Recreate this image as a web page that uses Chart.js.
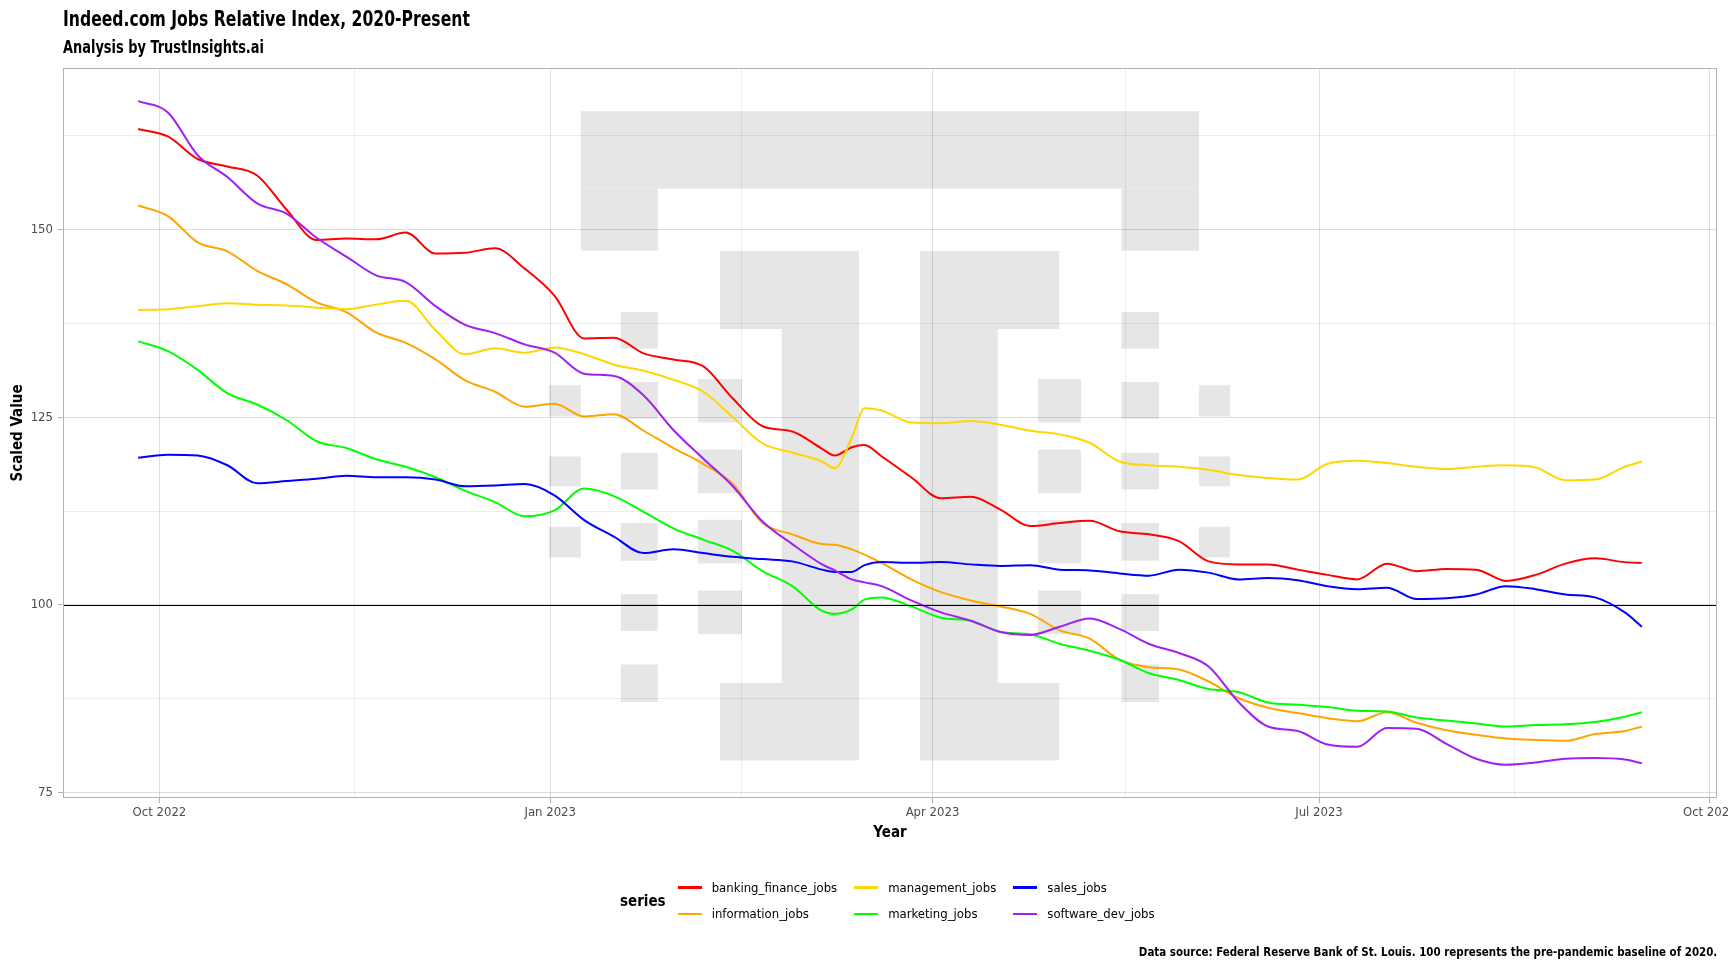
<!DOCTYPE html>
<html>
<head>
<meta charset="utf-8">
<title>Indeed.com Jobs Relative Index, 2020-Present</title>
<script src="https://cdn.jsdelivr.net/npm/chart.js@4.4.1/dist/chart.umd.min.js"></script>
<style>
  html, body { margin: 0; padding: 0; background: #fff; }
  #wrap {
    position: relative; width: 1728px; height: 972px; overflow: hidden;
    font-family: 'DejaVu Sans Condensed', 'Liberation Sans Narrow', 'Noto Sans', sans-serif;
    color: #000;
  }
  #chart { position: absolute; left: 0; top: 0; }
  /* the original face is a narrow one, so squeeze the condensed fallback a bit */
  .title { position: absolute; left: 63px; top: 5px; font-size: 22px; line-height: 27px; font-weight: bold; white-space: nowrap; transform: scaleX(0.79); transform-origin: left center; }
  .subtitle { position: absolute; left: 63px; top: 36px; font-size: 18px; line-height: 22px; font-weight: bold; white-space: nowrap; transform: scaleX(0.8); transform-origin: left center; }
  .caption { position: absolute; right: 11px; top: 943px; font-size: 13px; line-height: 18px; font-weight: bold; white-space: nowrap; transform: scaleX(0.88); transform-origin: right center; }
  #legend { position: absolute; left: 620px; top: 874px; display: flex; align-items: center; }
  #legend .ltitle { font-size: 15px; font-weight: bold; margin-right: 12px; }
  #legend-items { display: grid; grid-template-rows: repeat(2, 26.6px); grid-auto-flow: column; column-gap: 17px; }
  #legend .item { display: flex; align-items: center; font-size: 13px; white-space: nowrap; }
  #legend .key { display: inline-block; width: 24px; height: 2.5px; margin-right: 10px; }
</style>
</head>
<body>
<div id="wrap">
  <canvas id="chart" width="1728" height="972"></canvas>
  <div class="title">Indeed.com Jobs Relative Index, 2020-Present</div>
  <div class="subtitle">Analysis by TrustInsights.ai</div>
  <div id="legend"><span class="ltitle">series</span><div id="legend-items"></div></div>
  <div class="caption">Data source: Federal Reserve Bank of St. Louis. 100 represents the pre-pandemic baseline of 2020.</div>
</div>
<script>
// weekly readings (plus a few extra days around the March spike)
const DATES = [
  '2022-09-26', '2022-10-03', '2022-10-10', '2022-10-17', '2022-10-24', '2022-10-31',
  '2022-11-07', '2022-11-14', '2022-11-21', '2022-11-28', '2022-12-05', '2022-12-12',
  '2022-12-19', '2022-12-26', '2023-01-02', '2023-01-09', '2023-01-16', '2023-01-23',
  '2023-01-30', '2023-02-06', '2023-02-13', '2023-02-20', '2023-02-27', '2023-03-06',
  '2023-03-09', '2023-03-13', '2023-03-16', '2023-03-20', '2023-03-27', '2023-04-03',
  '2023-04-10', '2023-04-17', '2023-04-24', '2023-05-01', '2023-05-08', '2023-05-15',
  '2023-05-22', '2023-05-29', '2023-06-05', '2023-06-12', '2023-06-19', '2023-06-26',
  '2023-07-03', '2023-07-10', '2023-07-17', '2023-07-24', '2023-07-31', '2023-08-07',
  '2023-08-14', '2023-08-21', '2023-08-28', '2023-09-04', '2023-09-11', '2023-09-15'
];

const banking_finance_jobs = [
  163.4, 162.4, 159.4, 158.4, 157.2, 152.6, 148.6, 148.8, 148.7, 149.6, 146.8, 146.9,
  147.5, 144.8, 141.2, 135.5, 135.6, 133.5, 132.7, 131.8, 127.5, 123.8, 123.1, 120.8,
  119.9, 121.0, 121.3, 119.8, 117.0, 114.2, 114.4, 112.7, 110.5, 110.9, 111.2, 109.8,
  109.4, 108.5, 105.8, 105.4, 105.4, 104.7, 104.0, 103.4, 105.5, 104.5, 104.8, 104.7,
  103.2, 104.0, 105.5, 106.2, 105.7, 105.6
];
const information_jobs = [
  153.2, 151.8, 148.3, 147.1, 144.5, 142.7, 140.3, 139.0, 136.3, 134.9, 132.7, 129.9,
  128.4, 126.4, 126.8, 125.1, 125.4, 123.2, 120.9, 118.8, 116.1, 110.9, 109.4, 108.1,
  108.0, 107.4, 106.7, 105.6, 103.4, 101.7, 100.6, 99.8, 98.8, 96.6, 95.5, 92.7,
  91.7, 91.4, 89.8, 87.6, 86.3, 85.6, 84.9, 84.5, 85.7, 84.3, 83.3, 82.7,
  82.2, 82.0, 81.9, 82.8, 83.2, 83.8
];
const management_jobs = [
  139.3, 139.4, 139.8, 140.2, 140.0, 139.9, 139.6, 139.4, 140.0, 140.5, 136.6, 133.4,
  134.2, 133.6, 134.3, 133.4, 132.0, 131.2, 130.0, 128.4, 125.0, 121.5, 120.3, 119.1,
  118.2, 122.3, 126.2, 125.9, 124.3, 124.2, 124.5, 124.0, 123.2, 122.7, 121.6, 119.1,
  118.6, 118.4, 118.0, 117.3, 116.9, 116.7, 118.8, 119.2, 118.9, 118.4, 118.1, 118.4,
  118.6, 118.3, 116.6, 116.7, 118.4, 119.1
];
const marketing_jobs = [
  135.1, 133.8, 131.3, 128.2, 126.7, 124.6, 121.8, 120.9, 119.4, 118.4, 117.0, 115.2,
  113.7, 111.8, 112.6, 115.5, 114.5, 112.4, 110.2, 108.7, 107.2, 104.5, 102.5, 99.2,
  98.8, 99.4, 100.7, 101.0, 99.8, 98.3, 97.9, 96.4, 96.1, 94.8, 93.9, 92.7,
  90.9, 90.0, 88.8, 88.4, 87.0, 86.7, 86.4, 85.9, 85.8, 85.0, 84.6, 84.2,
  83.8, 84.0, 84.1, 84.4, 85.1, 85.7
];
const sales_jobs = [
  119.6, 120.0, 119.9, 118.6, 116.2, 116.5, 116.8, 117.2, 117.0, 117.0, 116.7, 115.8,
  115.9, 116.1, 114.6, 111.3, 109.1, 106.9, 107.4, 106.9, 106.4, 106.1, 105.8, 104.7,
  104.4, 104.4, 105.3, 105.7, 105.6, 105.7, 105.4, 105.2, 105.3, 104.7, 104.6, 104.2,
  103.9, 104.7, 104.3, 103.4, 103.6, 103.3, 102.5, 102.1, 102.3, 100.8, 100.9, 101.4,
  102.5, 102.1, 101.4, 101.0, 99.0, 97.1
];
const software_dev_jobs = [
  167.1, 165.6, 159.9, 157.0, 153.5, 152.1, 148.9, 146.4, 143.9, 143.0, 139.8, 137.3,
  136.2, 134.7, 133.6, 130.8, 130.5, 127.9, 123.3, 119.5, 115.8, 111.1, 108.1, 105.4,
  104.6, 103.4, 103.0, 102.5, 100.6, 99.0, 97.9, 96.4, 96.0, 97.1, 98.2, 96.8,
  94.8, 93.6, 91.8, 87.1, 83.8, 83.2, 81.4, 81.1, 83.6, 83.5, 81.5, 79.5,
  78.7, 79.0, 79.5, 79.6, 79.4, 78.9
];

const SERIES_NAMES = ['banking_finance_jobs', 'information_jobs', 'management_jobs', 'marketing_jobs', 'sales_jobs', 'software_dev_jobs'];
const SERIES_VALUES = [banking_finance_jobs, information_jobs, management_jobs, marketing_jobs, sales_jobs, software_dev_jobs];
const SERIES_COLORS = ['#ff0000', '#ffa500', '#ffd700', '#00ff00', '#0000ff', '#a020f0'];

const X_TICK_DATES = ['2022-10-01', '2023-01-01', '2023-04-01', '2023-07-01', '2023-10-01'];
const X_TICK_LABELS = ['Oct 2022', 'Jan 2023', 'Apr 2023', 'Jul 2023', 'Oct 2023'];
const Y_TICKS = [75, 100, 125, 150];
const BASELINE = 100;

const FONT = "'DejaVu Sans Condensed', 'Liberation Sans Narrow', 'Noto Sans', sans-serif";
const TICK_GREY = '#4d4d4d';
const BORDER_GREY = '#b3b3b3';

// days since 2022-10-01 (linear x axis, no date adapter)
const DAY0 = Date.UTC(2022, 9, 1);
function dayOf(s) {
  const [y, m, d] = s.split('-').map(Number);
  return (Date.UTC(y, m - 1, d) - DAY0) / 864e5;
}

const xs = DATES.map(dayOf);
const xMajor = X_TICK_DATES.map(dayOf);
const xMinor = xMajor.slice(1).map((v, i) => (v + xMajor[i]) / 2);

// ggplot style 5% expansion
const xSpan = xs[xs.length - 1] - xs[0];
const xMin = xs[0] - xSpan * 0.05;
const xMax = xs[xs.length - 1] + xSpan * 0.05;
const allY = SERIES_VALUES.flat();
const ySpan = Math.max(...allY) - Math.min(...allY);
const yMin = Math.min(...allY) - ySpan * 0.05;
const yMax = Math.max(...allY) + ySpan * 0.05;

const yStep = Y_TICKS[1] - Y_TICKS[0];
const yMinor = Y_TICKS.map(v => v - yStep / 2).concat([Y_TICKS[Y_TICKS.length - 1] + yStep / 2])
  .filter(v => v >= yMin && v <= yMax);

const isMajorX = v => xMajor.includes(v);
const isMajorY = v => Y_TICKS.includes(v);

// trust insights logo in the background, laid out from the panel's top-left corner
const LOGO_COLOR = '#e6e6e6';
const LOGO_DX = 485.8, LOGO_DY = 43.2;
const logoRects = [
  [32, 0, 618.2, 77.4], [32, 77.4, 77, 62], [572.7, 77.4, 77.5, 62],
  [171.2, 139.8, 139, 78], [232.9, 217.8, 77.3, 354], [171.2, 571.8, 139, 77.4],
  [371.2, 139.8, 139.3, 78], [371.2, 217.8, 77.7, 354], [371.2, 571.8, 139.3, 77.4]
];
const rowsA = [[274.1, 31.2], [345.3, 29.8], [415.5, 30.8]];
const rowsB = [[200.7, 36.7], [270.8, 36.8], [341.6, 36.7], [411.8, 37.7], [483, 36.8], [553.3, 37.6]];
const rowsC = [[267.8, 43.5], [338.4, 43.6], [408.6, 43.7], [479.4, 43.6]];
[[0, 32, rowsA], [71.9, 37, rowsB], [149.2, 44, rowsC], [489.2, 43, rowsC], [572.5, 37.7, rowsB], [650.2, 31, rowsA]]
  .forEach(([x, w, rows]) => rows.forEach(([y, h]) => logoRects.push([x, y, w, h])));

const watermark = {
  id: 'watermark',
  beforeDraw(chart) {
    const { ctx, chartArea } = chart;
    ctx.save();
    ctx.fillStyle = '#fff';
    ctx.fillRect(0, 0, chart.width, chart.height);
    ctx.fillStyle = LOGO_COLOR;
    const ox = chartArea.left + LOGO_DX, oy = chartArea.top + LOGO_DY;
    logoRects.forEach(([x, y, w, h]) => ctx.fillRect(ox + x, oy + y, w, h));
    ctx.restore();
  }
};

const baselineAndBorder = {
  id: 'baselineAndBorder',
  afterDatasetsDraw(chart) {
    const { ctx, chartArea, scales } = chart;
    const y = Math.round(scales.y.getPixelForValue(BASELINE)) + 0.5;
    ctx.save();
    ctx.strokeStyle = '#000';
    ctx.lineWidth = 1.2;
    ctx.beginPath();
    ctx.moveTo(chartArea.left, y);
    ctx.lineTo(chartArea.right, y);
    ctx.stroke();
    ctx.strokeStyle = BORDER_GREY;
    ctx.lineWidth = 1;
    ctx.strokeRect(Math.round(chartArea.left) + 0.5, Math.round(chartArea.top) + 0.5,
      Math.round(chartArea.right - chartArea.left) - 1, Math.round(chartArea.bottom - chartArea.top) - 1);
    ctx.restore();
  }
};

const datasets = SERIES_NAMES.map((name, i) => ({
  label: name,
  data: xs.map((x, j) => ({ x, y: SERIES_VALUES[i][j] })),
  borderColor: SERIES_COLORS[i],
  backgroundColor: SERIES_COLORS[i],
  borderWidth: 2,
  pointRadius: 0,
  cubicInterpolationMode: 'monotone',
  borderJoinStyle: 'round',
  fill: false,
  order: SERIES_NAMES.length - i
}));

const gridColor = (major) => major ? 'rgba(0,0,0,0.13)' : 'rgba(0,0,0,0.07)';

const chart = new Chart(document.getElementById('chart').getContext('2d'), {
  type: 'line',
  data: { datasets },
  options: {
    responsive: false,
    animation: false,
    layout: { padding: { left: 0, top: 68, right: 11, bottom: 127 } },
    plugins: { legend: { display: false }, tooltip: { enabled: false }, title: { display: false } },
    scales: {
      x: {
        type: 'linear',
        min: xMin,
        max: xMax,
        afterBuildTicks: s => { s.ticks = xMajor.concat(xMinor).map(v => ({ value: v })); },
        afterFit: s => { s.height = 47; },
        ticks: {
          autoSkip: false, maxRotation: 0, padding: 2, color: TICK_GREY,
          font: { family: FONT, size: 13 },
          callback: v => isMajorX(v) ? X_TICK_LABELS[xMajor.indexOf(v)] : ''
        },
        grid: {
          color: c => gridColor(isMajorX(c.tick.value)),
          lineWidth: 1,
          tickLength: 5,
          tickColor: c => isMajorX(c.tick.value) ? BORDER_GREY : 'rgba(0,0,0,0)'
        },
        border: { display: false },
        title: {
          display: true, text: 'Year', color: '#000',
          font: { family: FONT, size: 15, weight: 'bold' },
          padding: { top: 0, bottom: 3 }
        }
      },
      y: {
        type: 'linear',
        min: yMin,
        max: yMax,
        afterBuildTicks: s => { s.ticks = Y_TICKS.concat(yMinor).map(v => ({ value: v })); },
        afterFit: s => { s.width = 63; },
        ticks: {
          autoSkip: false, padding: 5, color: TICK_GREY,
          font: { family: FONT, size: 13 },
          callback: v => isMajorY(v) ? String(v) : ''
        },
        grid: {
          color: c => gridColor(isMajorY(c.tick.value)),
          lineWidth: 1,
          tickLength: 5,
          tickColor: c => isMajorY(c.tick.value) ? BORDER_GREY : 'rgba(0,0,0,0)'
        },
        border: { display: false },
        title: {
          display: true, text: 'Scaled Value', color: '#000',
          font: { family: FONT, size: 15, weight: 'bold' },
          padding: { top: 9, bottom: 0 }
        }
      }
    }
  },
  plugins: [watermark, baselineAndBorder]
});

// legend: two rows, filled column by column like ggplot
const legendBox = document.getElementById('legend-items');
chart.data.datasets.forEach(ds => {
  const item = document.createElement('div');
  item.className = 'item';
  item.innerHTML = `<span class="key" style="background:${ds.borderColor}"></span><span>${ds.label}</span>`;
  legendBox.appendChild(item);
});
</script>
</body>
</html>
